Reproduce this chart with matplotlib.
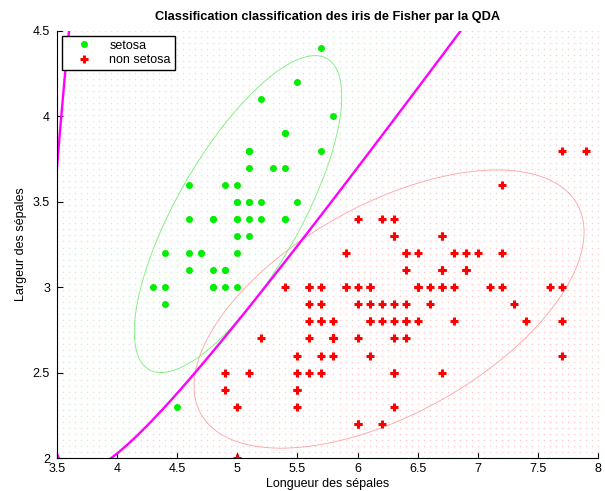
import matplotlib.pyplot as plt
import numpy as np

plt.rcParams['font.family'] = ['Liberation Sans', 'DejaVu Sans']

# Fisher iris: sepal length / sepal width
setosa_len = [5.1, 4.9, 4.7, 4.6, 5.0, 5.4, 4.6, 5.0, 4.4, 4.9, 5.4, 4.8, 4.8, 4.3, 5.8, 5.7, 5.4,
              5.1, 5.7, 5.1, 5.4, 5.1, 4.6, 5.1, 4.8, 5.0, 5.0, 5.2, 5.2, 4.7, 4.8, 5.4, 5.2, 5.5,
              4.9, 5.0, 5.5, 4.9, 4.4, 5.1, 5.0, 4.5, 4.4, 5.0, 5.1, 4.8, 5.1, 4.6, 5.3, 5.0]
setosa_wid = [3.5, 3.0, 3.2, 3.1, 3.6, 3.9, 3.4, 3.4, 2.9, 3.1, 3.7, 3.4, 3.0, 3.0, 4.0, 4.4, 3.9,
              3.5, 3.8, 3.8, 3.4, 3.7, 3.6, 3.3, 3.4, 3.0, 3.4, 3.5, 3.4, 3.2, 3.1, 3.4, 4.1, 4.2,
              3.1, 3.2, 3.5, 3.6, 3.0, 3.4, 3.5, 2.3, 3.2, 3.5, 3.8, 3.0, 3.8, 3.2, 3.7, 3.3]
other_len = [7.0, 6.4, 6.9, 5.5, 6.5, 5.7, 6.3, 4.9, 6.6, 5.2, 5.0, 5.9, 6.0, 6.1, 5.6, 6.7, 5.6,
             5.8, 6.2, 5.6, 5.9, 6.1, 6.3, 6.1, 6.4, 6.6, 6.8, 6.7, 6.0, 5.7, 5.5, 5.5, 5.8, 6.0,
             5.4, 6.0, 6.7, 6.3, 5.6, 5.5, 5.5, 6.1, 5.8, 5.0, 5.6, 5.7, 5.7, 6.2, 5.1, 5.7,
             6.3, 5.8, 7.1, 6.3, 6.5, 7.6, 4.9, 7.3, 6.7, 7.2, 6.5, 6.4, 6.8, 5.7, 5.8, 6.4, 6.5,
             7.7, 7.7, 6.0, 6.9, 5.6, 7.7, 6.3, 6.7, 7.2, 6.2, 6.1, 6.4, 7.2, 7.4, 7.9, 6.4, 6.3,
             6.1, 7.7, 6.3, 6.4, 6.0, 6.9, 6.7, 6.9, 5.8, 6.8, 6.7, 6.7, 6.3, 6.5, 6.2, 5.9]
other_wid = [3.2, 3.2, 3.1, 2.3, 2.8, 2.8, 3.3, 2.4, 2.9, 2.7, 2.0, 3.0, 2.2, 2.9, 2.9, 3.1, 3.0,
             2.7, 2.2, 2.5, 3.2, 2.8, 2.5, 2.8, 2.9, 3.0, 2.8, 3.0, 2.9, 2.6, 2.4, 2.4, 2.7, 2.7,
             3.0, 3.4, 3.1, 2.3, 3.0, 2.5, 2.6, 3.0, 2.6, 2.3, 2.7, 3.0, 2.9, 2.9, 2.5, 2.8,
             3.3, 2.7, 3.0, 2.9, 3.0, 3.0, 2.5, 2.9, 2.5, 3.6, 3.2, 2.7, 3.0, 2.5, 2.8, 3.2, 3.0,
             3.8, 2.6, 2.2, 3.2, 2.8, 2.8, 2.7, 3.3, 3.2, 2.8, 3.0, 2.8, 3.0, 2.8, 3.8, 2.8, 2.8,
             2.6, 3.0, 3.4, 3.1, 3.0, 3.1, 3.1, 3.1, 2.7, 3.2, 3.3, 3.0, 2.5, 3.0, 3.4, 3.0]

A = np.column_stack([setosa_len, setosa_wid])
B = np.column_stack([other_len, other_wid])


def gauss_stats(X):
    mu = X.mean(axis=0)
    S = np.cov(X.T)
    return mu, S


def qda_score(P, mu, S):
    # equal priors
    Si = np.linalg.inv(S)
    d = P - mu
    m = np.einsum('...i,ij,...j->...', d, Si, d)
    return -0.5 * m - 0.5 * np.log(np.linalg.det(S))


muA, SA = gauss_stats(A)
muB, SB = gauss_stats(B)

fig = plt.figure(figsize=(6.05, 4.91), dpi=100)
ax = fig.add_axes([0.0942, 0.0672, 0.8942, 0.8697])

# classification grid (background dots)
gx = np.arange(3.5, 8.001, 0.05)
gy = np.linspace(2, 4.5, 72)
GX, GY = np.meshgrid(gx, gy)
G = np.dstack([GX, GY])
diff = qda_score(G, muA, SA) - qda_score(G, muB, SB)
ax.plot(GX[diff > 0], GY[diff > 0], 's', color='#c8f5c8', ms=1.0, mew=0)
ax.plot(GX[diff <= 0], GY[diff <= 0], 's', color='#ffcccc', ms=1.0, mew=0)

# 95% ellipses
t = np.linspace(0, 2 * np.pi, 300)
for mu, S, col in [(muA, SA, '#77ee77'), (muB, SB, '#ffa0a0')]:
    w, V = np.linalg.eigh(S)
    pts = (V @ (np.sqrt(w * 5.991)[:, None] * np.vstack([np.cos(t), np.sin(t)]))).T + mu
    ax.plot(pts[:, 0], pts[:, 1], color=col, lw=0.6)

# QDA boundary
fx = np.linspace(3.3, 8.2, 600)
fy = np.linspace(1.8, 4.7, 600)
FX, FY = np.meshgrid(fx, fy)
F = np.dstack([FX, FY])
fd = qda_score(F, muA, SA) - qda_score(F, muB, SB)
ax.contour(FX, FY, fd, levels=[0], colors='magenta', linewidths=1.7)

ax.plot(A[:, 0], A[:, 1], 'o', color='#00ee00', ms=5, mew=0, label='setosa')
ax.plot(B[:, 0], B[:, 1], '+', color='red', ms=6, mew=2.2, label='non setosa')

ax.set_xlim(3.5, 8)
ax.set_ylim(2, 4.5)
ax.set_xticks(np.arange(3.5, 8.01, 0.5))
ax.set_xticklabels(['3.5', '4', '4.5', '5', '5.5', '6', '6.5', '7', '7.5', '8'])
ax.set_yticks(np.arange(2, 4.51, 0.5))
ax.set_yticklabels(['2', '2.5', '3', '3.5', '4', '4.5'])
ax.spines['top'].set_visible(False)
ax.spines['right'].set_visible(False)
ax.tick_params(direction='in', length=4, labelsize=9)
ax.tick_params(axis='y', pad=5)
ax.set_xlabel('Longueur des sépales', fontsize=9, labelpad=2)
ax.set_ylabel('Largeur des sépales', fontsize=9, labelpad=4)
ax.set_title('Classification classification des iris de Fisher par la QDA',
             fontsize=9.2, fontweight='bold', pad=8)

leg = ax.legend(loc='upper left', fontsize=9, fancybox=False, framealpha=1,
                edgecolor='black', borderaxespad=0.4, handlelength=3.0, handletextpad=0.5,
                borderpad=0.3, labelspacing=0.2)
leg.get_frame().set_linewidth(1)

fig.savefig('out.png', dpi=100)
